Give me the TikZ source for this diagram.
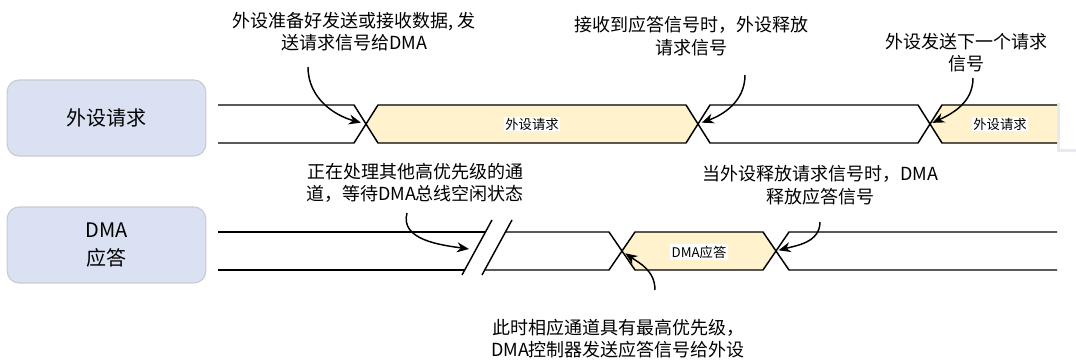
\documentclass[tikz,border=0pt]{standalone}
\usepackage{fontspec}
\newfontfamily\cjk{Noto Sans CJK SC}
\usetikzlibrary{arrows.meta}
\definecolor{boxfill}{RGB}{218,225,242}
\definecolor{boxline}{RGB}{200,202,210}
\definecolor{sigfill}{RGB}{255,242,204}
\definecolor{panelshadow}{RGB}{228,233,242}
\begin{document}
\begin{tikzpicture}[x=0.75pt,y=-0.75pt,
  lane/.style={draw=boxline, fill=boxfill, rounded corners=9pt, line width=0.8pt,
    minimum width=149pt, minimum height=57pt, align=center,
    font=\cjk\fontsize{15}{21}\selectfont},
  sig/.style={line width=1.1pt, line join=miter},
  yel/.style={sig, fill=sigfill},
  note/.style={font=\cjk\fontsize{13.5}{16.9}\selectfont, align=center, inner sep=0pt},
  lbl/.style={font=\cjk\fontsize{10}{12}\selectfont, fill=white, inner sep=1pt},
  callout/.style={-{Stealth[length=9pt,width=7.5pt]}, line width=1.1pt}]
\useasboundingbox (0,0) rectangle (1076,363);

% faint panel at the right edge
\fill[panelshadow] (1057,103) rectangle (1076,152);
\fill[white] (1060,100) rectangle (1076,149);

% lane boxes
\node[lane] (req) at (106.5,118) {外设请求};
\node[lane] (ack) at (106.5,245) {DMA\\应答};

% crossing points
\coordinate (x1) at (366,124);
\coordinate (x2) at (698,124);
\coordinate (x3) at (930,124);
\coordinate (x4) at (622,251);
\coordinate (x5) at (776,251);
\coordinate (brk) at (469,249);

% request row
\draw[sig] (218,105) -- (354,105) -- (x1) -- (354,143) -- (218,143);
\draw[yel] (x1) -- (378,105) -- (686,105) -- (x2) -- (686,143) -- (378,143) -- cycle;
\draw[sig] (x2) -- (710,105) -- (918,105) -- (x3) -- (918,143) -- (710,143) -- cycle;
\fill[sigfill] (x3) -- (942,105) -- (1057,105) -- (1057,143) -- (942,143) -- cycle;
\draw[sig] (1057,105) -- (942,105) -- (x3) -- (942,143) -- (1057,143);

% acknowledge row
\draw[sig] (218,232) -- (485.5,232);
\draw[sig] (218,270) -- (464.7,270);
\draw[sig] (462,275) -- (492,220);
\draw[sig] (482,275) -- (512,220);
\draw[sig] (505.5,232) -- (609,232) -- (x4) -- (609,270) -- (484.7,270);
\draw[yel] (x4) -- (635,232) -- (763,232) -- (x5) -- (763,270) -- (635,270) -- cycle;
\draw[sig] (1057,232) -- (789,232) -- (x5) -- (789,270) -- (1057,270);

% signal labels
\node[lbl] (y1) at (532,124) {外设请求};
\node[lbl] (y3) at (1000,124) {外设请求};
\node[lbl] (y4) at (699,252) {DMA应答};

% notes
\node[note] (n1) at (354,31.5) {外设准备好发送或接收数据, 发\\送请求信号给DMA};
\node[note] (n2) at (691,36) {接收到应答信号时，外设释放\\请求信号};
\node[note] (n3) at (966,52.5) {外设发送下一个请求\\信号};
\node[note] (n4) at (415,183) {正在处理其他高优先级的通\\道，等待DMA总线空闲状态};
\node[note] (n5) at (820,185) {当外设释放请求信号时，DMA\\释放应答信号};
\node[note] (n6) at (618,338.5) {此时相应通道具有最高优先级，\\DMA控制器发送应答信号给外设};

% callout starts
\coordinate (s1) at (308,67);
\coordinate (s2) at (745,75);
\coordinate (s3) at (973,78);
\coordinate (s4) at (407,213);
\coordinate (s5) at (820,222);
\coordinate (s6) at (655,290);

\draw[callout, shorten >=4pt] (s1) to[out=-90,in=165] (x1);
\draw[callout, shorten >=3pt] (s2) to[out=-90,in=20] (x2);
\draw[callout, shorten >=2pt] (s3) to[out=-90,in=25] (x3);
\draw[callout] (s4) to[out=-105,in=172] (brk);
\draw[callout, shorten >=2pt] (s5) to[out=-90,in=15] (x5);
\draw[callout, shorten >=3pt] (s6) to[out=90,in=-35] (x4);
\end{tikzpicture}
\end{document}
